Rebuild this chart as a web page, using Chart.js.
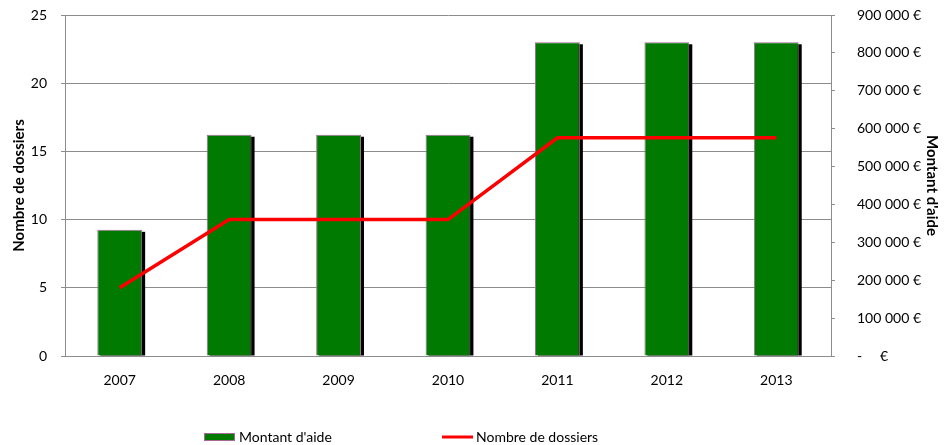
<!DOCTYPE html>
<html>
<head>
<meta charset="utf-8">
<script src="https://cdn.jsdelivr.net/npm/chart.js@4"></script>
<style>
  html, body { margin: 0; padding: 0; background: #fff; }
  #wrap { width: 947px; height: 445px; }
</style>
</head>
<body>
<div id="wrap"><canvas id="chart"></canvas></div>
<script>
const years = ['2007', '2008', '2009', '2010', '2011', '2012', '2013'];
const montantAide = [333000, 584000, 584000, 584000, 828000, 828000, 828000];
const nombreDossiers = [5, 10, 10, 10, 16, 16, 16];

const FONT = 'Lato, "Liberation Sans", sans-serif';
const GRID = '#8c8c8c';

function euro(v) {
  if (v === 0) return '-     €';
  return String(v).replace(/\B(?=(\d{3})+(?!\d))/g, ' ') + ' €';
}

// ombre portée noire derrière chaque barre (la barre elle-même est clippée)
const barShadow = {
  id: 'barShadow',
  beforeDatasetDraw(chart, args) {
    if (args.index !== 0) return;
    const ctx = chart.ctx;
    const area = chart.chartArea;
    ctx.save();
    ctx.fillStyle = '#000';
    chart.getDatasetMeta(0).data.forEach(b => {
      const left = b.x - b.width / 2;
      const bottom = Math.min(b.base, area.bottom);
      ctx.fillRect(left + 3, b.y + 2, b.width, bottom - b.y - 2);
    });
    ctx.restore();
  }
};

// légende en bas
const bottomLegend = {
  id: 'bottomLegend',
  afterDraw(chart) {
    const ctx = chart.ctx;
    const y = 437;
    const bar = chart.data.datasets[0];
    const line = chart.data.datasets[1];
    ctx.save();
    ctx.font = '14px ' + FONT;
    ctx.textBaseline = 'middle';
    ctx.fillStyle = bar.backgroundColor;
    ctx.fillRect(204, y - 4, 31, 8);
    ctx.strokeStyle = bar.borderColor;
    ctx.lineWidth = 1;
    ctx.strokeRect(204.5, y - 3.5, 30, 7);
    ctx.fillStyle = '#000';
    ctx.fillText(bar.label, 239, y);
    ctx.strokeStyle = line.borderColor;
    ctx.lineWidth = 3;
    ctx.beginPath();
    ctx.moveTo(442, y);
    ctx.lineTo(473, y);
    ctx.stroke();
    ctx.fillText(line.label, 476, y);
    ctx.restore();
  }
};

function fixY(width) {
  return s => {
    s.width = width;
    s.paddingTop = 0;
    s.paddingBottom = 0;
  };
}

Chart.defaults.font.family = FONT;
Chart.defaults.font.size = 14;
Chart.defaults.color = '#000';

new Chart(document.getElementById('chart'), {
  data: {
    labels: years,
    datasets: [
      {
        type: 'bar',
        label: "Montant d'aide",
        data: montantAide,
        yAxisID: 'y1',
        backgroundColor: '#007a00',
        borderColor: '#a8699a',
        borderWidth: 1,
        barPercentage: 0.41,
        categoryPercentage: 1,
        order: 2
      },
      {
        type: 'line',
        label: 'Nombre de dossiers',
        data: nombreDossiers,
        yAxisID: 'y',
        borderColor: '#ff0000',
        borderWidth: 3.5,
        pointRadius: 0,
        tension: 0,
        order: 1
      }
    ]
  },
  options: {
    responsive: true,
    maintainAspectRatio: false,
    animation: false,
    layout: { padding: { top: 15, bottom: 0, left: 0, right: 0 } },
    plugins: {
      legend: { display: false },
      tooltip: { enabled: false }
    },
    scales: {
      x: {
        grid: { display: false, drawTicks: false },
        border: { color: GRID },
        ticks: { padding: 16 },
        afterFit(s) { s.height = 89; }
      },
      y: {
        position: 'left',
        min: 0,
        max: 25,
        ticks: { stepSize: 5, padding: 14 },
        grid: { color: GRID, tickLength: 4 },
        border: { color: GRID },
        title: {
          display: true,
          text: 'Nombre de dossiers',
          font: { weight: 'bold', size: 15 },
          padding: { top: 10, bottom: 0 }
        },
        afterFit: fixY(65)
      },
      y1: {
        position: 'right',
        min: 0,
        max: 900000,
        ticks: { stepSize: 100000, padding: 22, callback: euro },
        grid: { drawOnChartArea: false, color: GRID, tickLength: 4 },
        border: { color: GRID },
        title: {
          display: true,
          text: "Montant d'aide",
          font: { weight: 'bold', size: 15 },
          padding: { top: 6, bottom: 0 }
        },
        afterFit: fixY(116)
      }
    }
  },
  plugins: [barShadow, bottomLegend]
});
</script>
</body>
</html>
